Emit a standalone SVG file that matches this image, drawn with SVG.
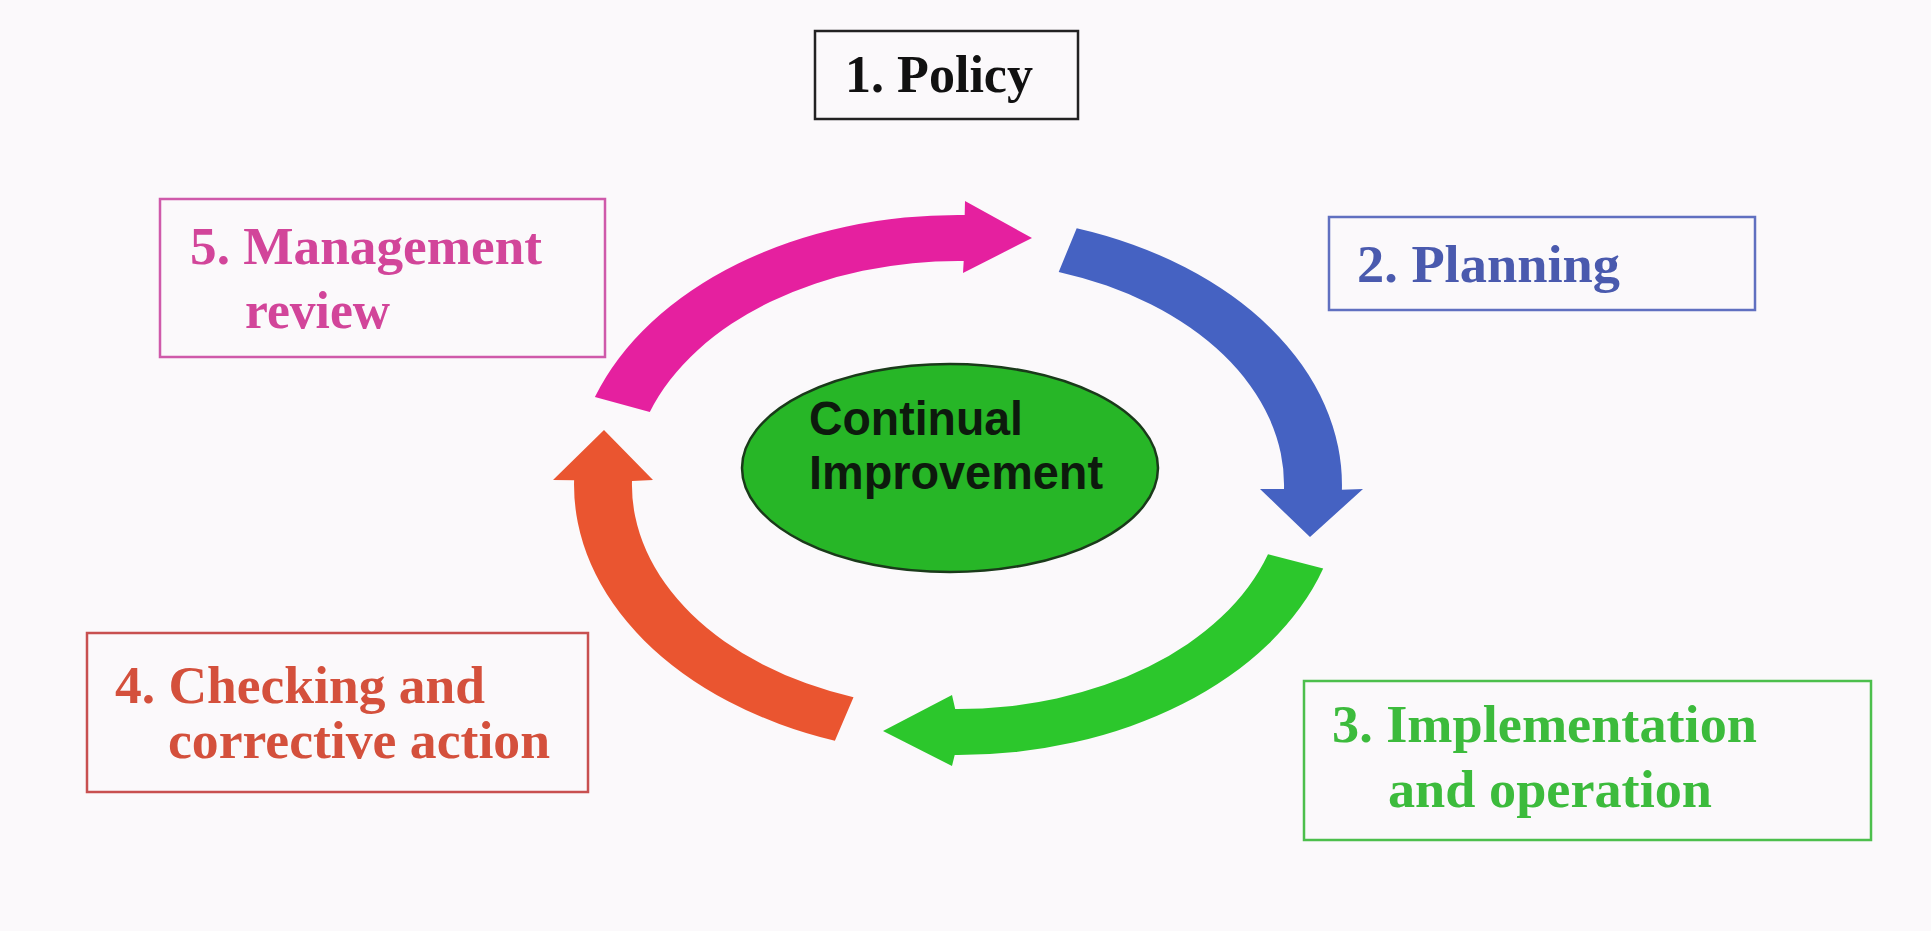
<svg xmlns="http://www.w3.org/2000/svg" width="1931" height="931" viewBox="0 0 1931 931">
<style>
.box{fill:none;stroke-width:2.5}
.lbl{font-family:"Liberation Serif","Times New Roman",serif;font-weight:bold;font-size:53px}
.ci{font-family:"Liberation Sans",Arial,sans-serif;font-weight:bold;font-size:48px;fill:#0d1a0d}
</style>
<rect x="0" y="0" width="1931" height="931" fill="#fbf9fb"/>
<g id="connectors">
<path id="arrow-5-1" fill="#e5209f" d="M594.9,397.1 A384,270 0 0 1 964.7,215 L965,201 L1032,238 L963,273 L963.7,261 A326,224 0 0 0 649.8,412.1 Z"/>
<path id="arrow-2-3" fill="#4562c2" d="M1076.7,228.2 A384,270 0 0 1 1341.9,489.7 L1363,489 L1310,537 L1260,489 L1284,488.9 A326,224 0 0 0 1058.7,271.9 Z"/>
<path id="arrow-3-4" fill="#2cc72c" d="M1323.2,568.4 A384,270 0 0 1 954.7,755 L952,766 L883,731 L952,695 L955.2,709 A326,224 0 0 0 1268,554.2 Z"/>
<path id="arrow-4-5" fill="#ea5530" d="M834.9,740.7 A384,270 0 0 1 574.1,480.3 L553,480 L604,430 L653,480 L632,481.1 A326,224 0 0 0 853.5,697.2 Z"/>
</g>
<g id="center">
<ellipse cx="950" cy="468" rx="208" ry="104" fill="#27b627" stroke="#1a3a1a" stroke-width="2.5"/>
<text class="ci" x="809" y="435" textLength="214" lengthAdjust="spacingAndGlyphs">Continual</text>
<text class="ci" x="809" y="489" textLength="294" lengthAdjust="spacingAndGlyphs">Improvement</text>
</g>
<g id="policy">
<rect class="box" x="815" y="31" width="263" height="88" stroke="#222"/>
<text class="lbl" x="845" y="92" fill="#111" textLength="188" lengthAdjust="spacingAndGlyphs">1. Policy</text>
</g>
<g id="planning">
<rect class="box" x="1329" y="217" width="426" height="93" stroke="#6070c0"/>
<text class="lbl" x="1357" y="282" fill="#4a5aae" textLength="263" lengthAdjust="spacingAndGlyphs">2. Planning</text>
</g>
<g id="implementation">
<rect class="box" x="1304" y="681" width="567" height="159" stroke="#4cbf4c"/>
<text class="lbl" x="1332" y="742" fill="#3cbb3c" textLength="425" lengthAdjust="spacingAndGlyphs">3. Implementation</text>
<text class="lbl" x="1388" y="807" fill="#3cbb3c" textLength="324" lengthAdjust="spacingAndGlyphs">and operation</text>
</g>
<g id="checking">
<rect class="box" x="87" y="633" width="501" height="159" stroke="#c85050"/>
<text class="lbl" x="115" y="703" fill="#d4503c" textLength="370" lengthAdjust="spacingAndGlyphs">4. Checking and</text>
<text class="lbl" x="168" y="758" fill="#d4503c" textLength="382" lengthAdjust="spacingAndGlyphs">corrective action</text>
</g>
<g id="management">
<rect class="box" x="160" y="199" width="445" height="158" stroke="#cf5aaa"/>
<text class="lbl" x="190" y="264" fill="#d2459a" textLength="352" lengthAdjust="spacingAndGlyphs">5. Management</text>
<text class="lbl" x="245" y="328" fill="#d2459a" textLength="145" lengthAdjust="spacingAndGlyphs">review</text>
</g>
</svg>
